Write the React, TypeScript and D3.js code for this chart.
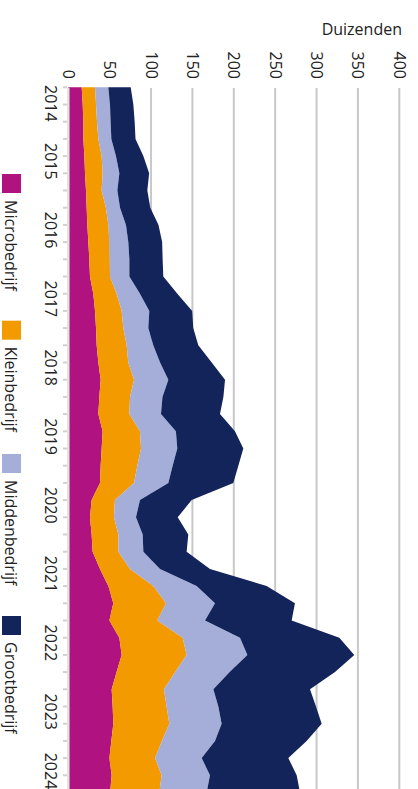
import React from 'react'
import * as d3 from 'd3'

// kwartalen 2014 K1 t/m 2024 K2
const years = ['2014', '2015', '2016', '2017', '2018', '2019', '2020', '2021', '2022', '2023', '2024']
const quarters = years.flatMap(y => ['K1', 'K2', 'K3', 'K4'].map(q => `${y} ${q}`)).slice(0, 42)

const seriesNames = ['Microbedrijf', 'Kleinbedrijf', 'Middenbedrijf', 'Grootbedrijf']
const colors = ['#b0127f', '#f39a00', '#a5aed8', '#13245b']

// duizenden
const micro = [16.2, 17.4, 18.2, 18.2, 19.4, 20.2, 21.4, 22.2, 23.0, 24.2, 25.4, 26.2, 30.2, 32.3, 33.5, 34.3, 36.3, 39.1, 37.5, 36.3, 41.5, 40.3, 39.1, 38.3, 28.2, 26.2, 28.2, 29.4, 38.3, 48.4, 54.4, 49.6, 61.7, 64.5, 58.4, 52.4, 53.6, 54.4, 52.0, 49.6, 52.4, 50.4]
const klein = [16.1, 16.1, 16.5, 18.1, 20.9, 21.3, 18.9, 23.3, 25.4, 25.4, 24.6, 24.2, 28.2, 32.2, 33.0, 36.2, 36.2, 40.3, 37.1, 37.5, 45.1, 47.6, 44.3, 41.1, 28.2, 29.0, 32.3, 31.1, 36.3, 54.3, 63.7, 58.0, 76.5, 78.5, 70.9, 63.2, 65.2, 67.7, 61.2, 55.2, 60.4, 59.6]
const midden = [16.1, 16.9, 16.5, 15.7, 17.3, 20.2, 19.0, 17.0, 21.3, 22.9, 23.8, 23.4, 28.2, 33.4, 30.2, 32.2, 38.4, 41.5, 39.2, 38.2, 43.4, 43.8, 42.7, 41.5, 30.2, 26.6, 29.4, 30.2, 36.2, 52.4, 59.2, 57.6, 69.3, 73.4, 65.7, 59.7, 62.5, 63.2, 64.1, 56.4, 58.4, 57.2]
const groot = [27.0, 28.2, 29.0, 29.2, 33.1, 36.0, 36.2, 36.6, 39.3, 40.9, 40.2, 41.0, 45.2, 51.8, 54.3, 54.4, 62.4, 68.5, 73.6, 71.3, 71.4, 79.8, 79.4, 78.5, 62.5, 50.4, 55.1, 52.3, 60.4, 84.6, 96.6, 104.7, 120.0, 129.2, 127.3, 116.8, 118.0, 120.9, 110.7, 104.7, 104.8, 112.8]

const valueTicks = [0, 50, 100, 150, 200, 250, 300, 350, 400]

const W = 418
const H = 789
const FONT = "'Open Sans', 'DejaVu Sans', sans-serif"

const App = () => {
  const table = quarters.map((q, i) => ({
    q,
    Microbedrijf: micro[i],
    Kleinbedrijf: klein[i],
    Middenbedrijf: midden[i],
    Grootbedrijf: groot[i],
  }))
  const stacked = d3.stack().keys(seriesNames)(table)

  // chart is gedraaid: waarde horizontaal, tijd verticaal
  const x = d3.scaleLinear().domain([0, 400]).range([68.3, 399.3])
  const y = d3.scaleLinear().domain([0, 41]).range([87.3, 87.3 + 41 * 17.2])

  const area = d3
    .area()
    .y((d, i) => y(i))
    .x0(d => x(d[0]))
    .x1(d => x(d[1]))

  const top = 88
  const labelHalf = 18.3

  return (
    <svg width={W} height={H} style={{ position: 'absolute', left: 0, top: 0, display: 'block' }} fontFamily={FONT}>
      <rect width={W} height={H} fill="#fff" />
      <text x={402} y={35} fontSize={16} textAnchor="end" fill="#222">
        Duizenden
      </text>

      {/* gridlijnen */}
      {valueTicks.slice(1).map(t => (
        <line key={t} x1={x(t)} x2={x(t)} y1={top} y2={H} stroke="#c8c8c8" strokeWidth={2} />
      ))}

      {/* waarde-labels */}
      {valueTicks.map(t => (
        <text key={t} transform={`translate(${x(t) - 5.5}, 79) rotate(90)`} fontSize={16} textAnchor="end" fill="#222">
          {t}
        </text>
      ))}

      {/* vlakken */}
      {stacked.map((s, k) => (
        <path key={s.key} d={area(s)} fill={colors[k]} />
      ))}

      {/* tijd-as */}
      <line x1={68.3} x2={68.3} y1={top} y2={H} stroke="#e2e2e2" strokeWidth={2.5} />
      {quarters.map((q, i) => (
        <line key={q} x1={63} x2={67} y1={y(i)} y2={y(i)} stroke="#d0d0d0" strokeWidth={2} />
      ))}
      {years.map((yr, k) => {
        const c = Math.min(Math.max(y(k * 4) + 5.2, 85 + labelHalf), 771)
        return (
          <text key={yr} transform={`translate(44.5, ${c}) rotate(90)`} fontSize={16} textAnchor="middle" fill="#222">
            {yr}
          </text>
        )
      })}

      {/* legenda */}
      {seriesNames.map((name, k) => {
        const ys = [174, 320.7, 454, 616][k]
        return (
          <g key={name}>
            <rect x={2} y={ys} width={19} height={19} fill={colors[k]} />
            <text transform={`translate(4.5, ${ys + 26}) rotate(90)`} fontSize={16} fill="#222">
              {name}
            </text>
          </g>
        )
      })}
    </svg>
  )
}

export default App
